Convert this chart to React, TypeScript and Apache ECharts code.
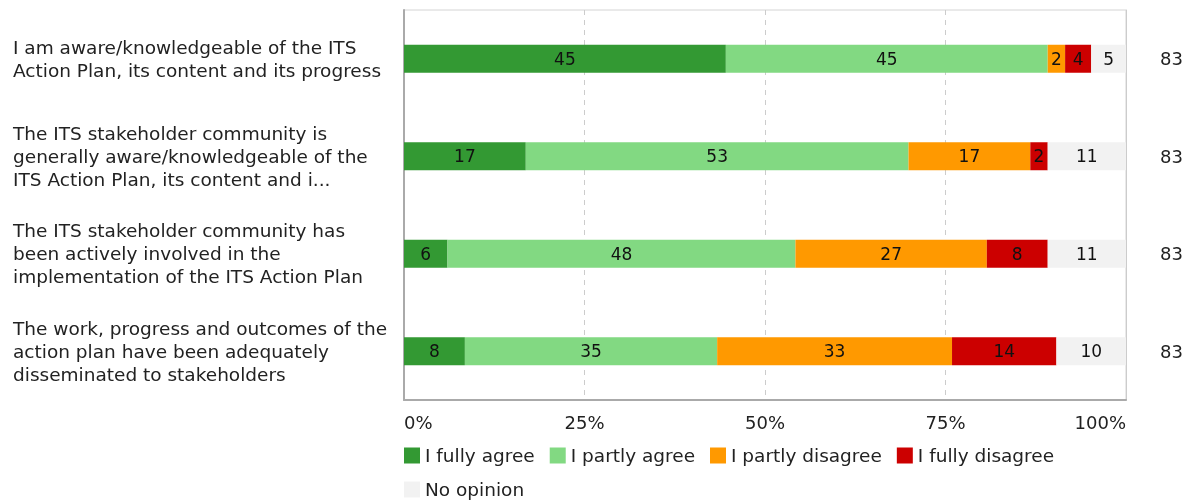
import React, { useEffect, useRef } from "react";
import * as echarts from "echarts";

const categories = [
  "I am aware/knowledgeable of the ITS\nAction Plan, its content and its progress",
  "The ITS stakeholder community is\ngenerally aware/knowledgeable of the\nITS Action Plan, its content and i...",
  "The ITS stakeholder community has\nbeen actively involved in the\nimplementation of the ITS Action Plan",
  "The work, progress and outcomes of the\naction plan have been adequately\ndisseminated to stakeholders",
];
const totals = [83, 83, 83, 83];
const seriesNames = ["I fully agree", "I partly agree", "I partly disagree", "I fully disagree", "No opinion"];
// respondent counts per answer (each row sums to 83)
const fullyAgree = [37, 14, 5, 7];
const partlyAgree = [37, 44, 40, 29];
const partlyDisagree = [2, 14, 22, 27];
const fullyDisagree = [3, 2, 7, 12];
const noOpinion = [4, 9, 9, 8];
const xTicks = [0, 25, 50, 75, 100];
const colors = ["#339933", "#82d982", "#ff9900", "#cc0000", "#f2f2f2"];

const FONT = "DejaVu Sans";

export default function App() {
  const ref = useRef<HTMLDivElement>(null);
  useEffect(() => {
    if (!ref.current) return;
    const chart = echarts.init(ref.current, undefined, { renderer: "svg" });
    const counts = [fullyAgree, partlyAgree, partlyDisagree, fullyDisagree, noOpinion];
    chart.setOption({
      animation: false,
      textStyle: { fontFamily: FONT },
      grid: { left: 404, right: 69, top: 10, bottom: 104, show: true, borderColor: "#d4d4d4", borderWidth: 1 },
      legend: {
        left: 404,
        top: 446,
        width: 700,
        padding: 0,
        icon: "rect",
        itemWidth: 16,
        itemHeight: 16,
        itemGap: 15,
        textStyle: { fontFamily: FONT, fontSize: 18.5, color: "#222", lineHeight: 19 },
        data: seriesNames,
      },
      xAxis: {
        type: "value",
        min: xTicks[0],
        max: xTicks[xTicks.length - 1],
        interval: 25,
        axisLine: { show: true, lineStyle: { color: "#aaaaaa", width: 2 } },
        axisTick: { show: false },
        axisLabel: {
          formatter: "{value}%",
          fontFamily: FONT,
          fontSize: 18,
          color: "#222",
          margin: 13,
          alignMinLabel: "left",
          alignMaxLabel: "right",
        },
        splitLine: { show: true, lineStyle: { color: "#cccccc", type: [5, 5], width: 1 } },
      },
      yAxis: [
        {
          type: "category",
          inverse: true,
          data: categories,
          axisLine: { show: true, lineStyle: { color: "#aaaaaa", width: 2 } },
          axisTick: { show: false },
          axisLabel: {
            align: "left",
            margin: 391,
            fontFamily: FONT,
            fontSize: 18.5,
            lineHeight: 23,
            color: "#222",
          },
        },
        {
          type: "category",
          inverse: true,
          position: "right",
          data: totals.map(String),
          axisLine: { show: true, lineStyle: { color: "#cccccc", width: 1 } },
          axisTick: { show: false },
          axisLabel: { align: "left", margin: 34, fontFamily: FONT, fontSize: 18, color: "#222" },
        },
      ],
      series: seriesNames.map((name, i) => ({
        name,
        type: "bar",
        stack: "total",
        yAxisIndex: 0,
        barWidth: 28,
        itemStyle: { color: colors[i] },
        label: {
          show: true,
          position: "inside",
          color: "#111",
          fontFamily: FONT,
          fontSize: 17,
          formatter: (p: any) => String(Math.round(p.value)),
        },
        data: counts[i].map((c, r) => (c / totals[r]) * 100),
      })),
    });
    return () => chart.dispose();
  }, []);
  return <div ref={ref} style={{ position: "fixed", left: 0, top: 0, width: 1195, height: 504 }} />;
}
